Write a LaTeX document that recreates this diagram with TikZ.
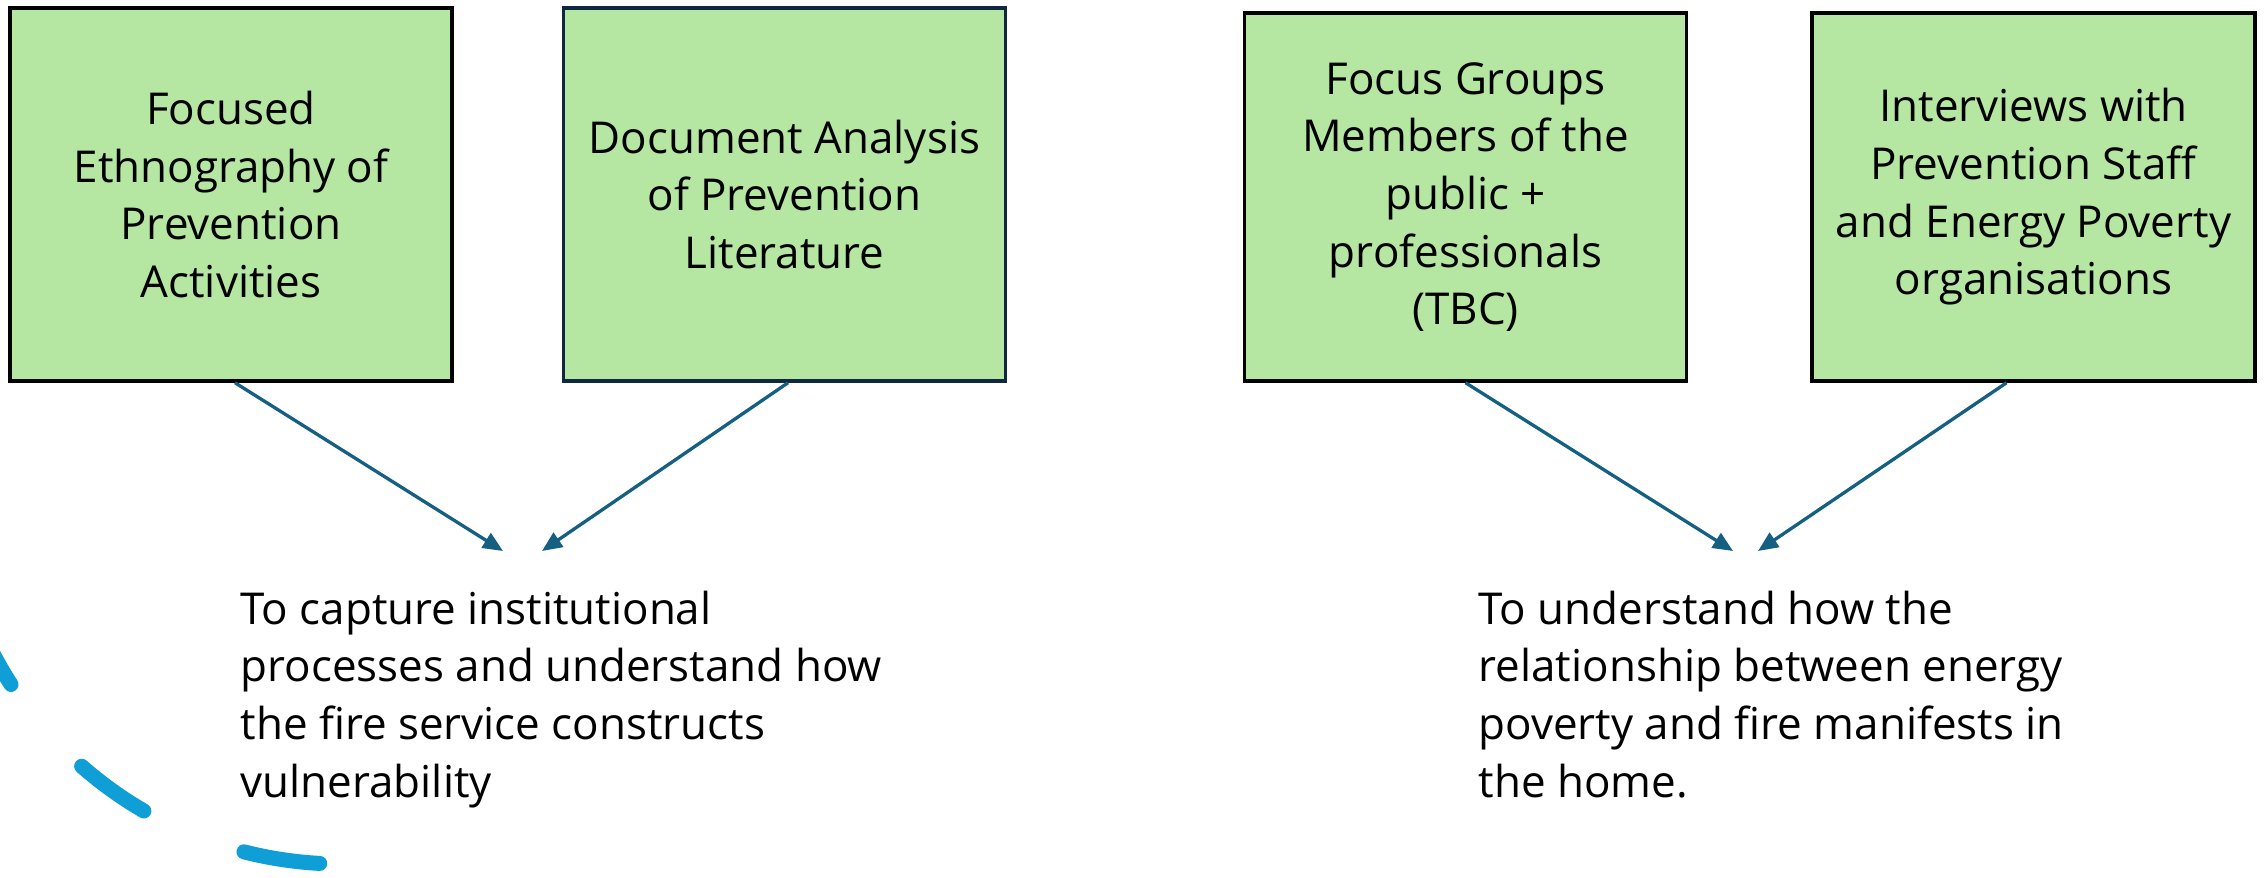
\documentclass[tikz,border=0pt]{standalone}
\usepackage{fontspec}
\setmainfont{Open Sans}
\usepackage{xcolor}
\usepackage{tikz}
\usetikzlibrary{arrows.meta,positioning,calc}
\definecolor{boxgreen}{HTML}{B5E6A2}
\definecolor{boxnavy}{HTML}{0E2841}
\definecolor{arrowblue}{HTML}{156082}
\definecolor{ringblue}{HTML}{0F9ED5}

\begin{document}
\begin{tikzpicture}[auto, >={Triangle[length=0.2cm,width=0.17cm]},
  font=\fontsize{12.5}{16.4}\selectfont]
\tikzset{%
  method/.style = {%
    draw,
    fill = boxgreen,
    line width = 0.035cm,
    minimum width = 4.42cm,
    minimum height = 3.73cm,
    inner sep = 0pt,
    align = center
  },
  link/.style = {->, draw = arrowblue, line width = 0.033cm},
  aim/.style = {anchor = north west, inner sep = 0pt, align = left}
}

  \useasboundingbox (0,0) rectangle (22.64,-8.78);

  \node[method] at (2.31,-1.945) (ethno)
    {Focused\\Ethnography of\\Prevention\\Activities};
  \node[method, draw=boxnavy, node distance=5.535cm, right of=ethno] (docs)
    {Document Analysis\\of Prevention\\Literature};
  \node[method, minimum height=3.68cm, yshift=-.025cm,
    node distance=6.81cm, right of=docs] (focus)
    {Focus Groups\\Members of the\\public +\\professionals\\(TBC)};
  \node[method, minimum height=3.68cm, minimum width=4.43cm,
    node distance=5.68cm, right of=focus] (inter)
    {Interviews with\\Prevention Staff\\and Energy Poverty\\organisations};

  \coordinate (capL) at (5.03,-5.51);
  \coordinate (capR) at (5.42,-5.51);
  \coordinate (undL) at (17.33,-5.51);
  \coordinate (undR) at (17.58,-5.51);

  \draw[link] ([xshift=.04cm]ethno.south) -- (capL);
  \draw[link] ([xshift=.035cm]docs.south) -- (capR);
  \draw[link] (focus.south) -- (undL);
  \draw[link] ([xshift=-.27cm]inter.south) -- (undR);

  \node[aim] at (2.40,-5.90) (capture)
    {To capture institutional\\processes and understand how\\the fire service constructs\\vulnerability};
  \node[aim] at (14.78,-5.90) (understand)
    {To understand how the\\relationship between energy\\poverty and fire manifests in\\the home.};

  % dashed ring, bottom left
  \draw[ringblue, line width=.15cm, line cap=round,
    dash pattern=on .768cm off 1.084cm]
    (3.41,-4.71) ++(201.7:3.93) arc[start angle=201.7, end angle=266.9, radius=3.93];
\end{tikzpicture}
\end{document}
